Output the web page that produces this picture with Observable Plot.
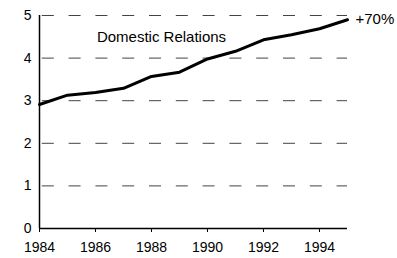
<!DOCTYPE html>
<html>
<head>
<meta charset="utf-8">
<script src="https://cdn.jsdelivr.net/npm/d3@7"></script>
<script src="https://cdn.jsdelivr.net/npm/@observablehq/plot@0.6"></script>
<style>
  html, body { margin: 0; padding: 0; background: #fff; }
  svg { font-family: "Liberation Sans", Arial, Helvetica, sans-serif; }
</style>
</head>
<body>
<div id="chart"></div>
<script>
const years = [1984, 1985, 1986, 1987, 1988, 1989, 1990, 1991, 1992, 1993, 1994, 1995];
const values = [2.91, 3.13, 3.19, 3.29, 3.57, 3.67, 3.98, 4.16, 4.43, 4.55, 4.69, 4.90];
const yTicks = [0, 1, 2, 3, 4, 5];
const gridValues = [1, 2, 3, 4, 5];
const xTicks = [1984, 1986, 1988, 1990, 1992, 1994];
const seriesLabel = "Domestic Relations";
const seriesLabelPos = {x: 1986.05, y: 4.37};
const endLabel = "+70%";

const data = years.map((year, i) => ({year, value: values[i]}));
const last = data[data.length - 1];

const chart = Plot.plot({
  width: 397,
  height: 258,
  marginLeft: 39,
  marginRight: 50,
  marginTop: 15,
  marginBottom: 30,
  style: {fontFamily: "'Liberation Sans', Arial, Helvetica, sans-serif", background: "#fff", color: "#000"},
  x: {domain: [1984, 1995]},
  y: {domain: [0, 5]},
  marks: [
    Plot.ruleY(gridValues, {x1: 1984, x2: 1995, stroke: "#444", strokeWidth: 1, strokeDasharray: "12,14.8", strokeDashoffset: 24}),
    Plot.ruleX([1984], {y1: 0, y2: 5, stroke: "#000", strokeWidth: 1.5}),
    Plot.ruleY([0], {x1: 1984, x2: 1995, stroke: "#000", strokeWidth: 1.5}),
    Plot.axisY({ticks: yTicks, tickSize: 0, tickPadding: 8, fontSize: 14, label: null, tickFormat: d => String(d)}),
    Plot.axisX({ticks: xTicks, tickSize: 4, tickPadding: 10, fontSize: 14, label: null, tickFormat: d => String(d), strokeWidth: 1}),
    Plot.line(data, {x: "year", y: "value", stroke: "#000", strokeWidth: 3, strokeLinejoin: "round", strokeLinecap: "round"}),
    Plot.text([seriesLabel], {x: seriesLabelPos.x, y: seriesLabelPos.y, text: d => d, textAnchor: "start", lineAnchor: "bottom", fontSize: 15, fill: "#000"}),
    Plot.text([last], {x: "year", y: "value", text: () => endLabel, textAnchor: "start", dx: 8, dy: -1, fontSize: 15, fill: "#000"})
  ]
});
document.getElementById("chart").appendChild(chart);
</script>
</body>
</html>
